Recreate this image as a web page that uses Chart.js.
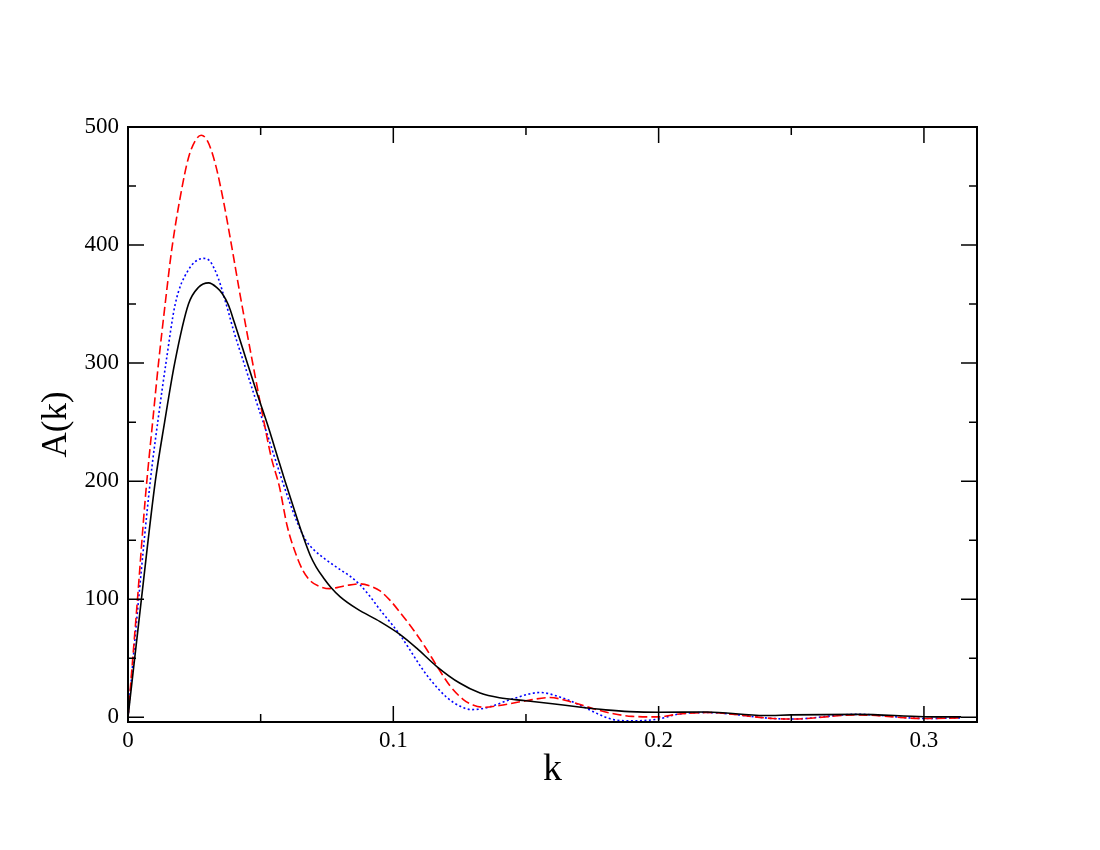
<!DOCTYPE html>
<html>
<head>
<meta charset="utf-8">
<title>A(k)</title>
<script src="https://cdn.jsdelivr.net/npm/chart.js@4.4.0/dist/chart.umd.min.js"></script>
<style>
  html, body { margin: 0; padding: 0; background: #fff; }
  #wrap { width: 1100px; height: 850px; }
</style>
</head>
<body>
<div id="wrap"><canvas id="chart" width="1100" height="850"></canvas></div>
<script>
// values (k, A)
const blackK = [0, 0.005, 0.0103, 0.0138, 0.0176, 0.0228, 0.0265, 0.0304, 0.0335, 0.0355, 0.0379, 0.040, 0.042, 0.0452, 0.049, 0.053, 0.0565, 0.0592, 0.062, 0.0655, 0.0687, 0.071, 0.0737, 0.0765, 0.08, 0.0862, 0.095, 0.1026, 0.1088, 0.1164, 0.125, 0.1327, 0.14, 0.15, 0.16, 0.17, 0.18, 0.189, 0.2, 0.218, 0.24, 0.25, 0.275, 0.3, 0.314];
const blackA = [0, 99, 200, 250, 300, 350, 364, 368, 364, 359, 349, 335, 321, 298.5, 272, 245, 219.5, 200, 180.5, 156.5, 137, 127, 118, 110, 102, 92, 81, 70, 58.5, 43, 29, 20.5, 16.5, 14, 11.5, 8.7, 6.3, 4.8, 4.2, 4.5, 1.5, 2, 2.5, 0.5, 0.3];

const redK = [0, 0.0034, 0.0065, 0.0095, 0.0115, 0.014, 0.0166, 0.0203, 0.0228, 0.0255, 0.0276, 0.030, 0.033, 0.036, 0.039, 0.042, 0.045, 0.048, 0.051, 0.054, 0.057, 0.060, 0.063, 0.066, 0.069, 0.072, 0.076, 0.082, 0.0875, 0.092, 0.095, 0.0988, 0.103, 0.1076, 0.112, 0.1164, 0.1214, 0.1264, 0.130, 0.134, 0.140, 0.15, 0.159, 0.167, 0.1754, 0.183, 0.19, 0.2, 0.207, 0.218, 0.243, 0.25, 0.275, 0.3, 0.314];
const redA = [0, 95, 185, 255, 300, 350, 398, 448, 474, 489, 493, 488, 468, 437, 400, 361, 324, 288, 253, 220, 196, 162, 140, 124, 115, 111, 109, 111.5, 113, 110.5, 107, 99, 87.5, 74, 59.5, 43.5, 26.5, 15, 10.5, 8.5, 10, 14, 16.7, 13, 7.3, 3, 0.8, 0.3, 2.5, 4, -1, -1.5, 2, -1, -0.5];

const blueK = [0, 0.004, 0.0084, 0.0115, 0.0143, 0.0178, 0.0225, 0.0285, 0.031, 0.034, 0.037, 0.040, 0.044, 0.048, 0.052, 0.056, 0.060, 0.064, 0.067, 0.070, 0.0743, 0.08, 0.084, 0.0875, 0.091, 0.095, 0.099, 0.1026, 0.106, 0.110, 0.1139, 0.1201, 0.125, 0.1296, 0.135, 0.1452, 0.1553, 0.163, 0.1704, 0.177, 0.183, 0.19, 0.2, 0.207, 0.218, 0.243, 0.25, 0.275, 0.3, 0.314];
const blueA = [0, 100, 200, 255, 300, 350, 378, 388.7, 386, 372, 350, 326, 298, 270, 243, 215, 188, 164, 150, 142, 134, 125, 119, 112, 103, 91, 80, 69.5, 58, 44, 32, 17, 9.5, 6.5, 8, 15.8, 21, 17, 10.2, 3, -2, -3, -1.5, 2.5, 4, -1, -1.5, 2.5, -1, -0.5];

const xTicks = [0, 0.1, 0.2, 0.3];
const xMinor = [0.05, 0.15, 0.25];
const yTicks = [0, 100, 200, 300, 400, 500];
const yMinor = [50, 150, 250, 350, 450];

const serif = "'Liberation Serif', 'DejaVu Serif', 'Times New Roman', serif";

function toPoints(ks, as) {
    return ks.map(function(k, i) { return {x: k, y: as[i]}; });
}

// inward ticks on all four sides plus the box
const frameTicks = {
    id: 'frameTicks',
    afterDatasetsDraw(chart) {
        const ctx = chart.ctx;
        const a = chart.chartArea;
        const x = chart.scales.x;
        const y = chart.scales.y;
        ctx.save();
        ctx.strokeStyle = '#000';
        ctx.lineWidth = 1.5;
        ctx.beginPath();
        function xt(v, len) {
            const px = x.getPixelForValue(v);
            ctx.moveTo(px, a.bottom); ctx.lineTo(px, a.bottom - len);
            ctx.moveTo(px, a.top); ctx.lineTo(px, a.top + len);
        }
        function yt(v, len) {
            const py = y.getPixelForValue(v);
            ctx.moveTo(a.left, py); ctx.lineTo(a.left + len, py);
            ctx.moveTo(a.right, py); ctx.lineTo(a.right - len, py);
        }
        xTicks.forEach(v => xt(v, 16));
        xMinor.forEach(v => xt(v, 8));
        yTicks.forEach(v => yt(v, 16));
        yMinor.forEach(v => yt(v, 8));
        ctx.stroke();
        ctx.lineWidth = 2;
        ctx.strokeRect(a.left, a.top, a.right - a.left, a.bottom - a.top);
        ctx.restore();
    }
};

const ctx = document.getElementById('chart').getContext('2d');
new Chart(ctx, {
    type: 'line',
    data: {
        datasets: [
            {
                label: 'black',
                data: toPoints(blackK, blackA),
                borderColor: '#000000',
                borderWidth: 1.6
            },
            {
                label: 'red',
                data: toPoints(redK, redA),
                borderColor: '#ff0000',
                borderWidth: 1.6,
                borderDash: [9, 4]
            },
            {
                label: 'blue',
                data: toPoints(blueK, blueA),
                borderColor: '#0000ff',
                borderWidth: 1.6,
                borderDash: [2, 2.5]
            }
        ]
    },
    options: {
        responsive: false,
        animation: false,
        layout: {
            padding: {top: 127, right: 123, left: 0, bottom: 0}
        },
        elements: {
            point: {radius: 0},
            line: {cubicInterpolationMode: 'monotone', fill: false}
        },
        plugins: {
            legend: {display: false},
            tooltip: {enabled: false}
        },
        scales: {
            x: {
                type: 'linear',
                min: 0,
                max: 0.32,
                grid: {display: false, drawTicks: false, tickLength: 0},
                border: {display: false},
                afterBuildTicks: function(scale) {
                    scale.ticks = xTicks.map(v => ({value: v}));
                },
                afterFit: function(scale) {
                    scale.height = 128;
                },
                ticks: {
                    color: '#000',
                    padding: 5,
                    maxRotation: 0,
                    font: {family: serif, size: 23},
                    callback: function(v) { return String(v); }
                },
                title: {
                    display: true,
                    text: 'k',
                    color: '#000',
                    font: {family: serif, size: 38, lineHeight: 1},
                    padding: {top: 0, bottom: 61}
                }
            },
            y: {
                type: 'linear',
                min: -4,
                max: 500,
                grid: {display: false, drawTicks: false, tickLength: 0},
                border: {display: false},
                afterBuildTicks: function(scale) {
                    scale.ticks = yTicks.map(v => ({value: v}));
                },
                afterFit: function(scale) {
                    scale.width = 128;
                },
                ticks: {
                    color: '#000',
                    padding: 9,
                    font: {family: serif, size: 23},
                    callback: function(v) { return String(v); }
                },
                title: {
                    display: true,
                    text: 'A(k)',
                    color: '#000',
                    font: {family: serif, size: 35, lineHeight: 1},
                    padding: {top: 39.5, bottom: 0}
                }
            }
        }
    },
    plugins: [frameTicks]
});
</script>
</body>
</html>
